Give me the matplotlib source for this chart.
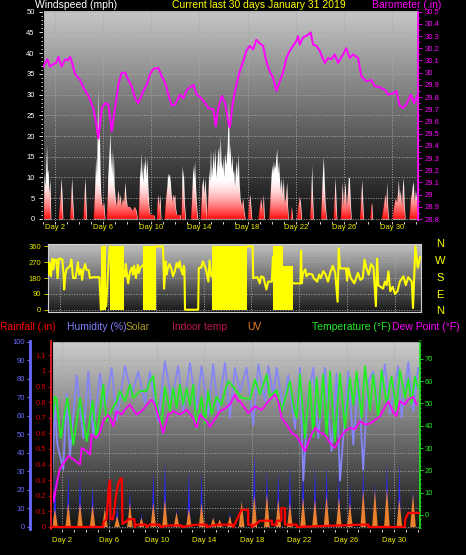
import numpy as np
import matplotlib.pyplot as plt
from matplotlib.ticker import MultipleLocator, FuncFormatter

plt.rcParams['font.family'] = ['Liberation Sans', 'DejaVu Sans']

# ---------------- dados ----------------
day_ticks = [2, 6, 10, 14, 18, 22, 26, 30]
day_labels = ['Day 2', 'Day 6', 'Day 10', 'Day 14', 'Day 18', 'Day 22', 'Day 26', 'Day 30']

# barometro [in]
baro_day = [1.05, 1.17, 1.36, 1.58, 1.86, 2.1, 2.28, 2.55, 2.83, 3.05, 3.25, 3.39, 3.66, 4.08, 4.35,
            4.77, 5.18, 5.41, 5.6, 5.88, 6.16, 6.43, 6.71, 6.99, 7.26, 7.54, 7.82, 8.09, 8.37, 8.65,
            8.92, 9.34, 9.62, 9.9, 10.17, 10.59, 10.87, 11.14, 11.42, 11.7, 11.98, 12.39, 12.67, 12.95,
            13.2, 13.5, 13.78, 14.05, 14.33, 14.74, 15.16, 15.36, 15.57, 15.86, 16.13, 16.4, 16.52,
            16.8, 17.07, 17.35, 17.63, 17.9, 18.18, 18.46, 18.73, 19.01, 19.29, 19.57, 19.84, 20.12,
            20.4, 20.68, 20.95, 21.23, 21.51, 21.78, 22.06, 22.2, 22.34, 22.62, 23.03, 23.25, 23.45,
            23.72, 24.0, 24.42, 24.69, 24.97, 25.25, 25.52, 25.94, 26.21, 26.49, 26.77, 27.19, 27.46,
            27.88, 28.29, 28.57, 28.99, 29.41, 29.68, 30.1, 30.37, 30.65, 30.93, 31.2, 31.57, 31.84, 32.12]
baro_in = [30.05, 30.08, 30.11, 30.05, 30.07, 30.08, 30.13, 30.05, 30.11, 30.10, 30.13, 30.09, 29.99, 29.94, 29.88,
           29.81, 29.71, 29.59, 29.46, 29.71, 29.75, 29.74, 29.52, 29.71, 29.90, 30.00, 30.00, 29.94, 29.89, 29.79,
           29.75, 29.85, 29.90, 29.99, 30.03, 30.04, 29.97, 29.92, 29.82, 29.73, 29.74, 29.82, 29.79, 29.86,
           29.88, 29.90, 29.82, 29.80, 29.77, 29.71, 29.70, 29.56, 29.71, 29.81, 29.75, 29.60, 29.55,
           29.77, 29.90, 30.01, 30.09, 30.18, 30.22, 30.19, 30.27, 30.24, 30.22, 30.09, 30.01, 29.96,
           29.85, 29.93, 30.00, 30.12, 30.18, 30.22, 30.26, 30.30, 30.23, 30.29, 30.31, 30.33, 30.23,
           30.22, 30.18, 30.08, 30.12, 30.11, 30.15, 30.08, 30.15, 30.20, 30.12, 30.15, 30.12, 29.97,
           29.93, 29.94, 29.89, 29.88, 29.86, 29.82, 29.83, 29.85, 29.73, 29.71, 29.74, 29.82, 29.75, 29.81]

# rajadas de vento [mph]
gust_day = [1.02, 1.08, 1.15, 1.22, 1.3, 1.36, 1.42, 1.5, 1.58, 1.65,
            2.3, 2.4, 2.5, 2.58, 2.65, 3.25, 3.32, 3.39, 3.46, 3.55, 4.35, 4.42, 4.49, 4.56, 4.62,
            5.2, 5.3, 5.38, 5.45, 5.5, 5.55, 5.6, 5.68, 5.74, 5.8, 5.9, 6.05, 6.15,
            6.3, 6.38, 6.45, 6.52, 6.57, 6.63, 6.7, 6.78, 6.85, 6.92, 7.0, 7.1, 7.2, 7.26, 7.33, 7.4,
            7.5, 7.6, 7.7, 7.82, 7.9, 8.0, 8.2, 8.4, 8.6, 8.75, 8.85,
            8.95, 9.0, 9.05, 9.1, 9.15, 9.22, 9.3, 9.35, 9.42, 9.5, 9.58, 9.65, 9.72, 9.8, 9.9, 10.2, 10.3,
            10.45, 10.5, 10.58, 10.65, 10.73, 10.8,
            11.1, 11.2, 11.3, 11.36, 11.42, 11.5, 11.58, 11.65, 11.72, 11.8, 11.88, 11.95, 12.0, 12.1, 12.4, 12.45,
            12.5, 12.55, 12.62, 12.67, 12.75, 12.85, 13.3, 13.38, 13.45, 13.52, 13.6, 13.68, 13.75, 13.85,
            14.1, 14.2, 14.3, 14.38, 14.47, 14.55, 14.62, 14.7, 14.78, 14.85, 14.92, 15.0, 15.08, 15.16,
            15.22, 15.3, 15.38, 15.45, 15.52, 15.6, 15.66, 15.72, 15.8, 15.88, 15.95, 16.02, 16.1, 16.2,
            16.3, 16.38, 16.42, 16.48, 16.55, 16.62, 16.7, 16.78, 16.85, 16.92, 17.0, 17.08, 17.15, 17.22,
            17.3, 17.38, 17.5, 17.6, 17.7, 17.8,
            18.05, 18.12, 18.2, 18.28, 18.35, 18.9, 19.0, 19.1, 19.2, 19.32, 19.4,
            19.8, 19.88, 19.95, 20.02, 20.08, 20.15, 20.22, 20.3, 20.36, 20.43, 20.5, 20.58, 20.65, 20.72,
            20.8, 20.88, 20.98, 21.05, 21.15, 21.26, 21.33, 21.4,
            21.55, 21.65, 21.75, 22.1, 22.2, 22.3, 22.4, 22.5, 23.2, 23.28, 23.34, 23.4, 23.48,
            24.1, 24.18, 24.24, 24.3, 24.38, 24.45, 24.55, 25.15, 25.22, 25.28, 25.35, 25.42,
            25.75, 25.82, 25.88, 25.95, 26.05, 26.12, 26.2, 26.3, 26.38, 26.46, 26.55, 26.62,
            27.35, 27.43, 27.5, 27.58, 27.65, 28.2, 28.26, 28.32, 28.4,
            29.15, 29.3, 29.42, 29.5, 29.57, 29.65, 29.72,
            30.05, 30.15, 30.28, 30.4, 30.48, 30.54, 30.62, 30.7, 30.8, 30.88, 30.95, 31.02, 31.1,
            31.45, 31.55, 31.62, 31.7, 31.78, 31.85, 31.95, 32.05, 32.17]
gust_mph = [0, 11, 8, 12, 18, 11, 12, 6, 10, 0,
            0, 4, 10, 6, 0, 0, 6, 10, 5, 0, 0, 6, 10, 5, 0,
            0, 8, 15, 10, 20, 32, 18, 22, 12, 6, 3, 4, 0,
            0, 10, 14, 18, 21, 12, 17, 10, 16, 8, 5, 3, 6, 7, 4, 6,
            3, 5, 4, 9, 5, 3, 3, 2, 3, 2, 0,
            0, 8, 13, 10, 16, 12, 9, 14, 12, 15, 10, 15, 8, 3, 1, 1, 0,
            0, 4, 6, 3, 6, 0,
            0, 5, 8, 11, 10, 11, 9, 6, 4, 6, 5, 6, 3, 1, 1, 0,
            0, 13, 10, 12, 4, 0, 0, 7, 13, 10, 14, 8, 4, 0,
            0, 8, 10, 6, 10, 5, 0, 5, 12, 9, 17, 10, 13, 16.5,
            12, 17, 10, 13, 16, 17.5, 12, 20, 14, 12, 15, 10, 16, 13,
            17, 24, 29, 15, 18, 12, 15.5, 11, 12, 8, 12, 14, 10, 16,
            9, 5, 3, 5, 2, 0,
            0, 4, 6, 3, 0, 0, 3, 5, 2, 6, 0,
            0, 6, 10, 13, 11, 14, 12, 13, 15, 17, 11, 14, 10, 7,
            10, 6, 10, 4, 5, 9, 3, 0,
            0, 3, 0, 0, 3, 5.5, 4, 0, 0, 8, 13, 6, 0,
            0, 8, 12, 15, 9, 4, 0, 0, 6, 10, 5, 0,
            0, 6, 9, 3, 7, 9, 3, 6, 10, 10, 4, 0,
            0, 6, 9.5, 4, 0, 0, 3, 4, 0,
            0, 3, 6, 3, 9, 3, 0,
            0, 3, 5, 4, 7, 9.5, 5, 7, 3, 8, 10, 4, 0,
            0, 5, 6, 8, 9, 4, 7, 5, 3]

# direcao do vento [graus]
dir_day = [1.05, 1.1, 1.15, 1.2, 1.25, 1.35, 1.45, 1.55, 1.7, 1.8, 1.9, 2.05, 2.2, 2.3, 2.35, 2.45, 2.55,
           2.7, 2.85, 2.95, 3.1, 3.3, 3.5, 3.6, 3.75, 3.85, 3.95, 4.1, 4.2, 4.4, 4.5, 4.7, 5.0, 5.3, 5.42,
           5.86, 6.0, 6.16,
           7.36, 7.45, 7.5, 7.6, 7.7, 7.85, 8.0, 8.1, 8.2, 8.35, 8.5, 8.6, 8.7, 8.9,
           10.0, 10.6, 10.65, 10.7, 10.85, 10.9, 11.0, 11.15, 11.3, 11.45, 11.6, 11.75, 11.9, 12.0, 12.1,
           12.25, 12.35, 12.4, 12.45, 13.55, 13.6, 13.8, 13.95, 14.2, 14.4, 14.5, 14.65,
           17.65, 18.1, 18.15, 18.5, 18.7, 18.8, 19.0, 19.25, 19.4, 19.7, 19.8,
           21.5, 21.55, 22.1, 22.15, 22.2, 22.3, 22.5, 22.6, 22.8, 23.1, 23.2, 23.5, 23.65, 23.8, 24.0,
           24.2, 24.4, 24.6, 24.8, 25.0, 25.2, 25.3, 25.4, 25.9, 26.0, 26.1, 26.3, 26.6, 26.9, 27.1,
           27.3, 27.45, 27.6, 27.8, 28.0, 28.2, 28.4, 28.5, 28.6, 29.0, 29.15, 29.3, 29.45, 29.6, 29.8,
           30.0, 30.2, 30.4, 30.7, 30.9, 31.1, 31.4, 31.5, 31.7, 31.9, 32.1]
dir_deg = [200, 270, 250, 200, 190, 290, 230, 285, 285, 180, 290, 290, 285, 200, 115, 200, 230,
           240, 250, 285, 180, 180, 270, 200, 230, 170, 225, 260, 228, 225, 180, 185, 185, 185, 0,
           20, 200, 360,
           220, 190, 260, 200, 150, 215, 240, 200, 250, 180, 255, 210, 240, 250,
           360, 360, 285, 120, 275, 200, 230, 260, 235, 190, 220, 265, 240, 275, 235,
           200, 250, 230, 0, 0, 237, 240, 275, 230, 160, 280, 190,
           360, 360, 180, 185, 150, 190, 185, 115, 160, 160, 300,
           150, 150, 150, 335, 150, 205, 230, 190, 205, 200, 180, 160, 200, 180, 220,
           200, 160, 215, 250, 210, 45, 350, 235, 235, 165, 237, 180, 150, 210, 170,
           180, 285, 240, 200, 260, 240, 20, 290, 140, 120, 160, 140, 218, 105, 130,
           90, 105, 160, 190, 140, 185, 160, 10, 360, 240, 300]
# periodos de direcao variavel (a linha cobre 0..topo)
var_start = [5.43, 6.17, 8.94, 14.73, 19.82, 19.82]
var_end = [5.85, 7.35, 10.0, 17.65, 20.6, 21.5]
var_top = [360, 360, 360, 360, 360, 250]

# temperatura [F]
temp_day = [1.21, 1.4, 1.55, 1.89, 2.45, 2.96, 3.52, 4.08, 4.58, 4.92, 5.48, 5.76, 6.19, 6.61, 6.89,
            7.31, 7.73, 8.01, 8.57, 9.13, 9.42, 9.7, 9.98, 10.4, 10.68, 11.1, 11.38, 11.66, 11.94,
            12.22, 12.51, 12.79, 13.07, 13.35, 13.77, 14.05, 14.33, 14.61, 15.03, 15.46, 15.74, 16.02,
            16.3, 16.72, 17.15, 17.85, 18.28, 18.7, 19.26, 19.54, 20.1, 20.52, 21.22, 21.5, 21.79,
            22.07, 22.49, 22.91, 23.19, 23.47, 23.75, 24.03, 24.31, 24.6, 25.02, 25.44, 25.86, 26.28,
            26.56, 26.84, 27.26, 27.55, 27.97, 28.25, 28.67, 28.95, 29.37, 29.79, 30.21, 30.49, 30.92,
            31.2, 31.48, 31.76, 32.04]
temp_f = [43, 53, 52, 34.5, 52.5, 31.5, 52.5, 33, 51, 34.5, 58.4, 42, 47, 51, 55.5,
          51, 58.4, 52.5, 55.5, 55.5, 60, 62.3, 49.5, 40, 57.5, 46.5, 57, 48, 58.4,
          49.5, 57, 49, 58.4, 38.5, 53, 41, 55.5, 45, 53, 49.5, 55.5, 60,
          58.4, 55.5, 52.5, 52, 60.7, 54, 63, 53, 56, 46.5, 60, 49.5, 43.5,
          63, 34.5, 60, 35, 61.5, 43.5, 63, 34.5, 64.4, 33, 63.5, 39, 61.5,
          49.5, 64.4, 43.5, 66.7, 47, 63, 43.5, 65, 49.5, 62, 47, 65, 52.5,
          61, 50, 62, 57]

# ponto de orvalho [F]
dew_day = [1.21, 1.3, 1.55, 1.83, 2.25, 2.53, 2.96, 3.52, 3.66, 4.08, 4.36, 4.5, 4.92, 5.2, 5.48, 5.9,
           6.33, 6.61, 7.03, 7.31, 7.73, 8.29, 8.71, 9.28, 9.56, 9.84, 10.26, 10.54, 10.96, 11.38,
           11.94, 12.51, 13.07, 13.35, 13.63, 14.19, 14.47, 14.89, 15.31, 15.6, 16.16, 16.58, 16.86,
           17.01, 17.71, 18.28, 18.84, 19.4, 19.96, 20.24, 20.52, 20.94, 21.37, 21.79, 22.21, 22.49,
           22.91, 23.33, 23.75, 24.17, 24.6, 25.02, 25.44, 25.86, 26.28, 26.7, 27.12, 27.55, 27.97,
           28.39, 28.81, 29.23, 29.51, 29.93, 30.21, 30.49, 30.92, 31.2, 31.62, 31.9]
dew_f = [10, 6, 14, 21, 24, 26.5, 25, 22.6, 30, 28.7, 27, 36, 34.5, 37, 42, 45,
         39.8, 46.5, 45, 47.2, 49.5, 45, 46.5, 50.2, 51.7, 49.5, 42, 36.8, 45, 46.5,
         45, 47.2, 43.5, 39, 45, 42, 39.5, 43, 46.5, 47.2, 49.5, 54, 51,
         51, 45.7, 48.7, 47, 51, 54, 51, 43.5, 40.5, 36.8, 35.3, 31.5, 28.6,
         34.5, 39, 37, 36, 32.3, 30, 34.5, 37.5, 39, 38.5, 42, 40.5, 41,
         42.5, 44.3, 48.5, 51, 46, 44.3, 51, 49.5, 51.7, 53, 49.5]

# humidade [%]
hum_day = [1.21, 1.41, 1.6, 2.11, 2.4, 2.67, 3.24, 3.8, 4.22, 4.64, 5.2, 5.62, 6.19, 6.61, 7.31, 7.87,
           8.43, 8.99, 9.42, 10.12, 10.68, 11.24, 11.8, 12.22, 12.79, 13.35, 13.77, 14.33, 14.75,
           15.17, 15.74, 16.16, 16.58, 17.01, 17.57, 18.13, 18.56, 19.12, 19.4, 19.82, 20.1, 20.66,
           21.08, 21.65, 22.07, 22.35, 22.75, 23.19, 23.61, 24.17, 24.74, 25.16, 25.44, 26.14, 26.56,
           27.0, 27.4, 27.8, 28.25, 28.67, 29.23, 29.65, 30.35, 30.63, 31.2, 31.62, 32.04]
hum_pct = [31, 66, 45, 31, 72, 38, 82, 48, 84, 50, 83, 64, 86, 58, 87, 71.5,
           84, 67, 84, 57, 89.5, 68, 87, 62.5, 88.6, 64, 87, 60.7, 88,
           62.5, 88.6, 59, 86, 73, 86, 55, 88, 68, 87, 71, 86, 64,
           82, 53, 86, 25, 70, 86, 48, 86, 41, 83, 25, 84, 44.5,
           80, 31, 78, 84, 64, 88, 61, 87, 59, 89, 62.5, 86]

# chuva [in]
rain_day = [1.16, 5.49, 5.5, 5.75, 5.85, 5.95, 6.05, 6.1, 6.3, 6.4, 6.55, 6.75, 6.95, 7.05, 7.1, 7.3,
            7.5, 7.6, 8.1, 8.15, 8.3, 9.1, 9.15, 9.4, 10.25, 10.3, 11.1, 12.1, 12.1, 13.35, 14.2, 14.2,
            15.05, 16.45, 16.45, 17.15, 17.7, 17.7, 18.0, 18.0, 18.7, 19.7, 19.7, 20.1, 20.1, 20.5,
            20.5, 20.8, 20.8, 21.8, 21.8, 27.25, 27.85, 27.85, 30.9, 30.95, 31.2, 32.15]
rain_in = [0, 0, 0.03, 0.05, 0.15, 0.25, 0.30, 0.05, 0.05, 0.1, 0.2, 0.28, 0.31, 0.31, 0.02, 0.03,
           0.04, 0.05, 0.05, 0.0, 0.015, 0.015, 0.0, 0.015, 0.015, 0, 0.01, 0.01, 0, 0.015, 0.015, 0,
           0.015, 0.015, 0, 0.11, 0.11, 0.015, 0.015, 0, 0.04, 0.04, 0.015, 0.015, 0.04, 0.04,
           0.12, 0.12, 0.015, 0.015, 0, 0.015, 0.015, 0, 0, 0.05, 0.09, 0.09]

# radiacao solar [W/m2] e UV (picos diarios)
sun_day = [1.41, 2.53, 3.52, 4.58, 5.62, 6.65, 7.73, 8.7, 9.7, 10.68, 11.66, 12.7, 13.77, 14.75, 15.3,
           16.16, 17.15, 18.22, 19.28, 20.24, 21.22, 22.33, 23.33, 24.31, 25.35, 26.28, 27.4, 28.39,
           29.4, 30.45, 31.6]
solar_wm2 = [300, 300, 290, 230, 95, 120, 195, 75, 310, 360, 100, 310, 300, 60, 40,
             80, 140, 410, 320, 305, 330, 370, 335, 335, 300, 240, 335, 235, 350, 350, 200]
uv_index = [1.0, 1.3, 1.3, 1.2, 1.0, 0.6, 1.3, 0.5, 1.3, 1.5, 0.8, 1.0, 1.3, 0.5, 0.4,
            0.6, 1.4, 1.7, 1.8, 1.5, 1.3, 1.6, 1.5, 1.7, 1.6, 1.3, 2.0, 2.0, 2.1, 1.5, 1.8]

# ---------------- figura ----------------
W, H = 466, 555
fig = plt.figure(figsize=(W / 100, H / 100), dpi=100, facecolor='black')


def eixo(esq, topo, dir, base):
    # caixa em pixeis -> eixos da figura
    return fig.add_axes([esq / W, 1 - base / H, (dir - esq) / W, (base - topo) / H])


def fundo(ax, claro, escuro):
    g = np.linspace(escuro, claro, 256).reshape(-1, 1)
    ax.imshow(g, extent=(0, 1, 0, 1), transform=ax.transAxes, origin='lower',
              aspect='auto', cmap='gray', vmin=0, vmax=1, zorder=0)


def picos(ax, x, h, w, cor, alpha=1.0, z=2):
    for xi, hi in zip(x, h):
        ax.fill([xi - w, xi, xi + w], [0, hi, 0], color=cor, lw=0, alpha=alpha, zorder=z)


fmt = FuncFormatter(lambda v, p: '{:g}'.format(round(v, 2)))
grid_kw = dict(color='#a8a8a8', linestyle=':', linewidth=0.7)
day_col = '#f0f000'

# ---- 1) vento e barometro ----
ax1 = eixo(43, 10, 418, 221)
ax1.set_facecolor('black')
fundo(ax1, 0.78, 0.06)
ax1.set_axisbelow(True)
ax1.grid(True, **grid_kw)

poly = ax1.fill_between(gust_day, 0, gust_mph, color='white', lw=0, zorder=2)
red = np.zeros((256, 1, 4))
red[..., 0] = 1.0
red[:, 0, 3] = 0.95 * np.linspace(1, 0, 256) ** 1.6
im = ax1.imshow(red, extent=(1.0, 32.17, 0, 10), origin='lower', aspect='auto', zorder=3)
im.set_clip_path(poly.get_paths()[0], transform=ax1.transData)

ax1.set_xlim(1.0, 32.17)
ax1.set_ylim(-0.5, 50.4)
ax1.set_yticks(np.arange(0, 51, 5))
ax1.yaxis.set_minor_locator(MultipleLocator(1))
ax1.set_xticks(day_ticks)
ax1.set_xticklabels(day_labels)
ax1.xaxis.set_minor_locator(MultipleLocator(1))
ax1.tick_params(axis='y', which='both', colors='white', labelsize=5.5, length=3, pad=3, width=0.6)
ax1.tick_params(axis='y', which='minor', length=1.5)
ax1.tick_params(axis='x', which='both', colors='white', labelcolor=day_col, labelsize=5.5,
                length=2, pad=0.5, width=0.6)
for s in ax1.spines.values():
    s.set_color('#c8c8c8')

ax1b = ax1.twinx()
ax1b.plot(baro_day, baro_in, color='#ff00ff', lw=1.4, zorder=4)
ax1b.set_ylim(28.784, 30.514)
ax1b.set_yticks(np.arange(28.8, 30.51, 0.1))
ax1b.yaxis.set_major_formatter(fmt)
ax1b.yaxis.set_minor_locator(MultipleLocator(0.05))
ax1b.tick_params(axis='y', which='both', colors='#ff00ff', labelsize=5.5, length=3, pad=2, width=0.6)
ax1b.tick_params(axis='y', which='minor', length=1.5)
ax1b.spines['right'].set_color('#ff00ff')
ax1b.spines['right'].set_linewidth(1.2)

fig.text(35 / W, 1 - 4.5 / H, 'Windspeed (mph)', color='white', fontsize=7.5, va='center')
fig.text(172 / W, 1 - 4.5 / H, 'Current last 30 days January 31 2019', color='#ffff00',
         fontsize=7.5, va='center')
fig.text(372 / W, 1 - 4.5 / H, 'Barometer (.in)', color='#ff00ff', fontsize=7.5, va='center')

# ---- 2) direcao do vento ----
ax2 = eixo(48, 244, 421, 312)
ax2.set_facecolor('black')
fundo(ax2, 0.76, 0.1)
ax2.set_axisbelow(True)
ax2.grid(True, **grid_kw)
for s, e, t in zip(var_start, var_end, var_top):
    ax2.fill_between([s, e], 0, t, color='#ffff00', lw=0, zorder=2)
ax2.plot(dir_day, dir_deg, color='#ffff00', lw=1.5, zorder=3)
ax2.set_xlim(1.0, 32.17)
ax2.set_ylim(-13, 374)
ax2.set_yticks([0, 90, 180, 270, 360])
ax2.set_xticks(day_ticks)
ax2.set_xticklabels([])
ax2.tick_params(axis='y', colors='#e6e600', labelsize=5.5, length=3, pad=2, width=0.6)
ax2.tick_params(axis='x', length=0)
for s in ax2.spines.values():
    s.set_color('#d0d0d0')
for lab, yp in zip(['N', 'W', 'S', 'E', 'N'], [244, 261, 278, 295, 311]):
    fig.text(440 / W, 1 - yp / H, lab, color='#ffff00', fontsize=8, ha='center', va='center')

# ---- 3) chuva, humidade, temperatura ----
ax3 = eixo(52, 341, 420, 529)
ax3.set_facecolor('black')
fundo(ax3, 0.8, 0.07)
ax3.set_axisbelow(True)
ax3.grid(True, **grid_kw)

ax3s = ax3.twinx()
picos(ax3s, sun_day, solar_wm2, 0.13, '#2828ff')
ax3s.set_ylim(-11, 1005)
ax3s.axis('off')

ax3u = ax3.twinx()
picos(ax3u, sun_day, uv_index, 0.24, '#ff8a1e', alpha=0.9)
ax3u.set_ylim(-0.11, 10.05)
ax3u.axis('off')

ax3h = ax3.twinx()
ax3h.plot(hum_day, hum_pct, color='#8585f5', lw=1.3)
ax3h.set_ylim(-1.1, 100.5)
ax3h.axis('off')

ax3t = ax3.twinx()
ax3t.plot(temp_day, temp_f, color='#22ee22', lw=1.3)
ax3t.plot(dew_day, dew_f, color='#ff00ff', lw=1.3)
ax3t.set_ylim(-6.3, 78.0)
ax3t.set_yticks(np.arange(0, 71, 10))
ax3t.yaxis.set_minor_locator(MultipleLocator(2))
ax3t.tick_params(axis='y', which='both', colors='#22ee22', labelsize=5.5, length=2, pad=1.5, width=0.6)
ax3t.tick_params(axis='y', which='minor', length=1)
ax3t.spines['right'].set_color('#22ee22')
ax3t.spines['right'].set_linewidth(1.2)

ax3r = ax3.twinx()
ax3r.plot(rain_day, rain_in, color='#ff0000', lw=1.6)
ax3r.set_ylim(-0.013, 1.192)
ax3r.yaxis.tick_left()
ax3r.spines['left'].set_visible(True)
ax3r.spines['left'].set_position(('outward', 1))
ax3r.spines['left'].set_color('#ff2020')
ax3r.spines['left'].set_linestyle((0, (2, 1)))
ax3r.spines['left'].set_linewidth(1.2)
ax3r.spines['right'].set_visible(False)
ax3r.set_yticks(np.arange(0, 1.11, 0.1))
ax3r.yaxis.set_major_formatter(fmt)
ax3r.tick_params(axis='y', colors='#e00000', labelsize=5.5, length=2, pad=1.5, width=0.6)

# eixo da humidade (azul) a esquerda
ax3.set_xlim(1.16, 32.19)
ax3.set_ylim(-1.1, 100.5)
ax3.set_yticks(np.arange(0, 101, 10))
ax3.yaxis.set_minor_locator(MultipleLocator(5))
ax3.spines['left'].set_position(('outward', 16))
ax3.spines['left'].set_color('#6a6aff')
ax3.spines['left'].set_linewidth(2)
ax3.spines['top'].set_color('#d0d0d0')
ax3.spines['bottom'].set_color('#d0d0d0')
ax3.tick_params(axis='y', which='both', colors='#6a6aff', labelsize=5.5, length=2, pad=1.5, width=0.8)
ax3.tick_params(axis='y', which='minor', length=1)
ax3.set_xticks(day_ticks)
ax3.set_xticklabels(day_labels)
ax3.xaxis.set_minor_locator(MultipleLocator(1))
ax3.tick_params(axis='x', which='both', colors='white', labelcolor=day_col, labelsize=5.5,
                length=2, pad=4, width=0.6)
for a in [ax3s, ax3u, ax3h, ax3t, ax3r]:
    a.set_xlim(1.16, 32.19)

fig.text(0 / W, 1 - 327 / H, 'Rainfall (.in)', color='#ff0000', fontsize=7.5, va='center')
fig.text(126 / W, 1 - 327 / H, 'Solar', color='#a89a28', fontsize=7.5, va='center')
fig.text(67 / W, 1 - 327 / H, 'Humidity (%)', color='#8080ff', fontsize=7.5, va='center')
fig.text(172 / W, 1 - 327 / H, 'Indoor temp', color='#c01848', fontsize=7.5, va='center')
fig.text(247 / W, 1 - 327 / H, 'UV', color='#f08020', fontsize=7.5, va='center')
fig.text(312 / W, 1 - 327 / H, 'Temperature (°F)', color='#22ee22', fontsize=7.5, va='center')
fig.text(392 / W, 1 - 327 / H, 'Dew Point (°F)', color='#ff00ff', fontsize=7.5, va='center')

fig.savefig('out.png', dpi=100, facecolor='black')
